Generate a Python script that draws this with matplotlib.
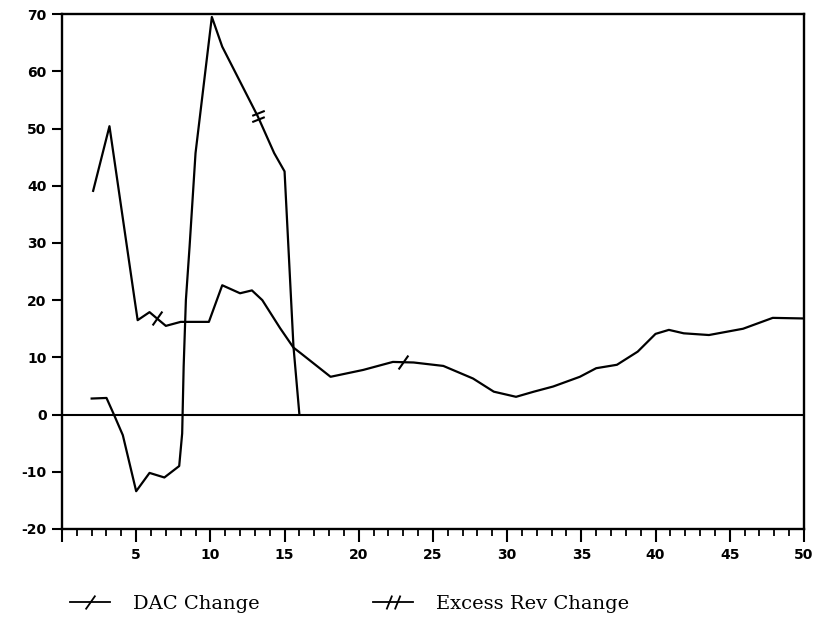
import matplotlib
matplotlib.use('Agg')
import matplotlib.pyplot as plt
from matplotlib.path import Path
from matplotlib.lines import Line2D
import numpy as np

# DAC change series (x, y)
dac_x = [2.1, 3.2, 4.9, 5.1, 5.9, 6.4, 7.0, 8.0, 9.0, 9.9, 10.8, 12.0, 12.8, 13.5,
         14.7, 15.6, 16.1, 18.1, 20.3, 22.3, 23.0, 23.7, 25.7, 27.7, 29.1, 30.6,
         31.8, 33.1, 34.9, 36.0, 37.4, 38.8, 40.0, 40.9, 41.9, 43.6, 45.9, 47.9, 49.9]
dac_y = [39.1, 50.4, 20.0, 16.5, 17.9, 16.8, 15.5, 16.2, 16.2, 16.2, 22.6, 21.2, 21.7, 20.0,
         15.1, 11.7, 10.7, 6.6, 7.8, 9.2, 9.15, 9.1, 8.5, 6.3, 4.0, 3.1,
         4.0, 4.9, 6.6, 8.1, 8.7, 11.0, 14.1, 14.8, 14.2, 13.9, 15.0, 16.9, 16.8]
dac_marks = [5, 20]

# Excess revenue change series
exc_x = [2.0, 3.0, 3.5, 4.1, 5.0, 5.9, 6.9, 7.9, 8.1, 8.2, 8.35, 8.6, 9.0,
         10.1, 10.8, 13.2, 14.3, 15.0, 15.6, 16.0]
exc_y = [2.8, 2.9, 0.0, -3.6, -13.4, -10.2, -11.0, -9.0, -3.3, 8.4, 20.0, 29.4, 45.7,
         69.5, 64.3, 52.1, 45.7, 42.5, 11.9, 0.0]
exc_marks = [15]

xtick_vals = list(range(0, 51, 5))
xtick_labels = [''] + [str(v) for v in range(5, 51, 5)]
ytick_vals = list(range(-20, 71, 10))
ytick_labels = ['-20', '-10', '0', '10', '20', '30', '40', '50', '60', '70']

MV, LT = Path.MOVETO, Path.LINETO
# slash markers drawn across the lines
single_slash = Path([(-0.35, -0.5), (0.35, 0.5)], [MV, LT])
# on the steep line the double mark lies almost flat
double_flat = Path([(-0.5, 0.05), (0.5, 0.45), (-0.5, -0.45), (0.5, -0.05)],
                   [MV, LT, MV, LT])
double_slash = Path([(-0.5, -0.5), (-0.1, 0.5), (0.1, -0.5), (0.5, 0.5)],
                    [MV, LT, MV, LT])

fig = plt.figure(figsize=(8.22, 6.26), dpi=100)
ax = fig.add_axes([0.0754, 0.155, 0.9026, 0.8225])

ax.plot(dac_x, dac_y, color='black', lw=1.6)
ax.plot(exc_x, exc_y, color='black', lw=1.6)
ax.plot([dac_x[i] for i in dac_marks], [dac_y[i] for i in dac_marks], ls='none',
        marker=single_slash, markersize=10, markeredgewidth=1.5, color='black')
ax.plot([exc_x[i] for i in exc_marks], [exc_y[i] for i in exc_marks], ls='none',
        marker=double_flat, markersize=9, markeredgewidth=1.5, color='black')
ax.axhline(0, color='black', lw=1.5)

ax.set_xlim(0, 50)
ax.set_ylim(-20, 70)
ax.set_xticks(xtick_vals)
ax.set_xticklabels(xtick_labels)
ax.set_xticks(range(1, 50), minor=True)
ax.set_yticks(ytick_vals)
ax.set_yticklabels(ytick_labels)

ax.tick_params(axis='x', which='major', direction='out', length=9, width=1.5, pad=5)
ax.tick_params(axis='x', which='minor', direction='out', length=5, width=1.3)
ax.tick_params(axis='y', direction='out', length=7, width=1.5, pad=4)
for lab in ax.get_xticklabels() + ax.get_yticklabels():
    lab.set_fontfamily('DejaVu Sans')
    lab.set_fontweight('bold')
    lab.set_fontsize(10)

for sp in ax.spines.values():
    sp.set_linewidth(1.7)

handles = [
    Line2D([], [], color='black', lw=1.3, marker=single_slash, markersize=10,
           markeredgewidth=1.3),
    Line2D([], [], color='black', lw=1.3, marker=double_slash, markersize=10,
           markeredgewidth=1.3),
]
fig.legend(handles, ['DAC Change', 'Excess Rev Change'], loc='center left',
           bbox_to_anchor=(0.0852, 0.035), ncol=2, frameon=False,
           prop={'family': 'DejaVu Serif', 'size': 14}, numpoints=1,
           borderpad=0, borderaxespad=0,
           handlelength=2.06, handletextpad=1.2, columnspacing=5.8)

fig.savefig('out.png', dpi=100)
